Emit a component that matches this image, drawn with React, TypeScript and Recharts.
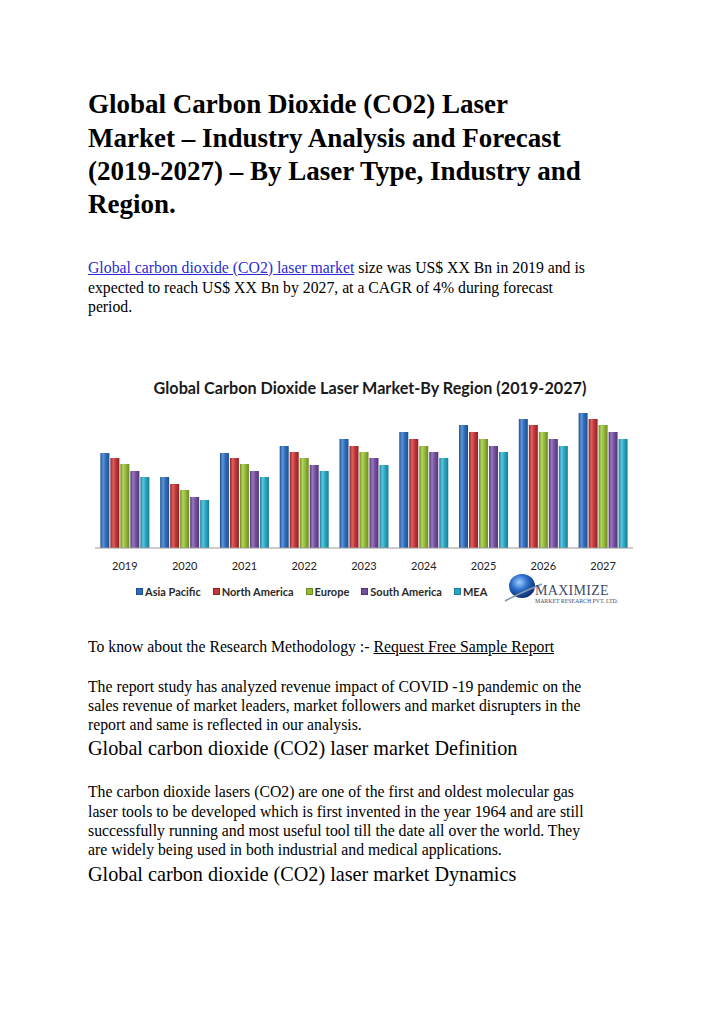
import React from 'react';
import { BarChart, Bar, XAxis, YAxis, Legend } from 'recharts';

const categories = ['2019', '2020', '2021', '2022', '2023', '2024', '2025', '2026', '2027'];
const asiaPacific = [95, 71, 95, 102, 109, 116, 123, 129, 135];
const northAmerica = [90, 64, 90, 96, 102, 109, 116, 123, 129];
const europe = [84, 58, 84, 90, 96, 102, 109, 116, 123];
const southAmerica = [77, 51, 77, 83, 90, 96, 102, 109, 116];
const mea = [71, 48, 71, 77, 83, 90, 96, 102, 109];

const seriesNames = ['Asia Pacific', 'North America', 'Europe', 'South America', 'MEA'];
const seriesKeys = ['ap', 'na', 'eu', 'sa', 'mea'];
const seriesColors = ['#2F6DBA', '#C2373A', '#93B83A', '#74509E', '#2AA6C2'];
const seriesLight = ['#5B95DC', '#E0605F', '#B5D45E', '#9A78C0', '#5BC6DE'];
const seriesDark = ['#1F4E8C', '#8E2224', '#6A8A22', '#523577', '#1A7C93'];

const data = categories.map((c, i) => ({
  year: c,
  ap: asiaPacific[i],
  na: northAmerica[i],
  eu: europe[i],
  sa: southAmerica[i],
  mea: mea[i],
}));

const serif = "'Liberation Serif', 'Times New Roman', serif";
const sans = "Lato, 'Open Sans', sans-serif";

function Line({ top, size, bold, children, lh }: any) {
  const lineH = lh || Math.round(size * 1.2);
  return (
    <div
      style={{
        position: 'absolute',
        left: 88,
        top: top - lineH / 2,
        fontSize: size,
        lineHeight: lineH + 'px',
        fontWeight: bold ? 'bold' : 'normal',
        fontFamily: serif,
        whiteSpace: 'nowrap',
        color: '#000',
      }}
    >
      {children}
    </div>
  );
}

function LegendContent() {
  return (
    <div style={{ height: 44, paddingTop: 8, paddingLeft: 41, display: 'flex', alignItems: 'flex-start', boxSizing: 'border-box', fontFamily: sans, fontSize: 11, fontWeight: 700, color: '#2a2a2a' }}>
      {seriesNames.map((n, i) => (
        <div key={n} style={{ display: 'flex', alignItems: 'center', marginRight: 12, height: 14 }}>
          <span style={{ display: 'inline-block', width: 5, height: 5, background: seriesColors[i], marginRight: 2, border: '1px solid ' + seriesDark[i] }} />
          <span>{n}</span>
        </div>
      ))}
    </div>
  );
}

function Logo() {
  return (
    <svg width={130} height={38} style={{ position: 'absolute', left: 502, top: 571 }}>
      <defs>
        <radialGradient id="globe" cx="40%" cy="35%" r="65%">
          <stop offset="0%" stopColor="#9fd0ff" />
          <stop offset="50%" stopColor="#2a6cc8" />
          <stop offset="100%" stopColor="#0d2f70" />
        </radialGradient>
      </defs>
      <ellipse cx={20} cy={15} rx={13} ry={12} fill="url(#globe)" />
      <path d="M3 30 Q 22 20 40 13" stroke="#8a9bb0" strokeWidth={1.5} fill="none" />
      <text x={33} y={24} fontFamily={serif} fontSize={14} fill="#3d4b6e" letterSpacing={0.3}>MAXIMIZE</text>
      <text x={33} y={32} fontFamily={serif} fontSize={5.8} fill="#3d4b6e">MARKET RESEARCH PVT. LTD.</text>
    </svg>
  );
}

export default function App() {
  return (
    <div style={{ position: 'absolute', left: 0, top: 0, width: 720, height: 1018, background: '#fff', overflow: 'hidden' }}>
      <Line top={104} size={27} lh={33} bold>Global Carbon Dioxide (CO2) Laser</Line>
      <Line top={138} size={27} lh={33} bold>Market – Industry Analysis and Forecast</Line>
      <Line top={171} size={27} lh={33} bold>(2019-2027) – By Laser Type, Industry and</Line>
      <Line top={204} size={27} lh={33} bold>Region.</Line>

      <Line top={267} size={15.75}>
        <span style={{ color: '#2b2bd0', textDecoration: 'underline' }}>Global carbon dioxide (CO2) laser market</span> size was US$ XX Bn in 2019 and is
      </Line>
      <Line top={287} size={15.75}>expected to reach US$ XX Bn by 2027, at a CAGR of 4% during forecast</Line>
      <Line top={306} size={15.75}>period.</Line>

      <div style={{ position: 'absolute', left: 85, top: 378, width: 570, textAlign: 'center', fontFamily: sans, fontWeight: 700, fontSize: 16.2, lineHeight: '20px', color: '#1a1a1a', whiteSpace: 'nowrap' }}>
        Global Carbon Dioxide Laser Market-By Region (2019-2027)
      </div>

      <div style={{ position: 'absolute', left: 85, top: 360 }}>
        <BarChart width={560} height={260} data={data} margin={{ top: 48, right: 12, left: 10, bottom: 0 }} barCategoryGap="9%" barGap={1}>
          <defs>
            {seriesKeys.map((k, i) => (
              <linearGradient key={k} id={'g-' + k} x1="0" y1="0" x2="1" y2="0">
                <stop offset="0%" stopColor={seriesDark[i]} />
                <stop offset="30%" stopColor={seriesLight[i]} />
                <stop offset="60%" stopColor={seriesColors[i]} />
                <stop offset="100%" stopColor={seriesDark[i]} />
              </linearGradient>
            ))}
          </defs>
          <XAxis dataKey="year" height={28} tickLine={false} axisLine={{ stroke: '#9a9a9a' }} tick={{ fill: '#222', fontSize: 11, fontFamily: sans }} tickMargin={8} />
          <YAxis hide domain={[0, 140]} />
          <Legend verticalAlign="bottom" content={<LegendContent />} wrapperStyle={{ height: 44 }} />
          {seriesKeys.map((k, i) => (
            <Bar key={k} dataKey={k} name={seriesNames[i]} fill={'url(#g-' + k + ')'} isAnimationActive={false} />
          ))}
        </BarChart>
      </div>
      <Logo />

      <Line top={646} size={15.75}>
        To know about the Research Methodology :- <span style={{ textDecoration: 'underline' }}>Request Free Sample Report</span>
      </Line>
      <Line top={686} size={15.75}>The report study has analyzed revenue impact of COVID -19 pandemic on the</Line>
      <Line top={705} size={15.75}>sales revenue of market leaders, market followers and market disrupters in the</Line>
      <Line top={724} size={15.75}>report and same is reflected in our analysis.</Line>
      <Line top={748} size={20.2}>Global carbon dioxide (CO2) laser market Definition</Line>
      <Line top={791} size={15.75}>The carbon dioxide lasers (CO2) are one of the first and oldest molecular gas</Line>
      <Line top={811} size={15.75}>laser tools to be developed which is first invented in the year 1964 and are still</Line>
      <Line top={830} size={15.75}>successfully running and most useful tool till the date all over the world. They</Line>
      <Line top={849} size={15.75}>are widely being used in both industrial and medical applications.</Line>
      <Line top={874} size={20.2}>Global carbon dioxide (CO2) laser market Dynamics</Line>
    </div>
  );
}
